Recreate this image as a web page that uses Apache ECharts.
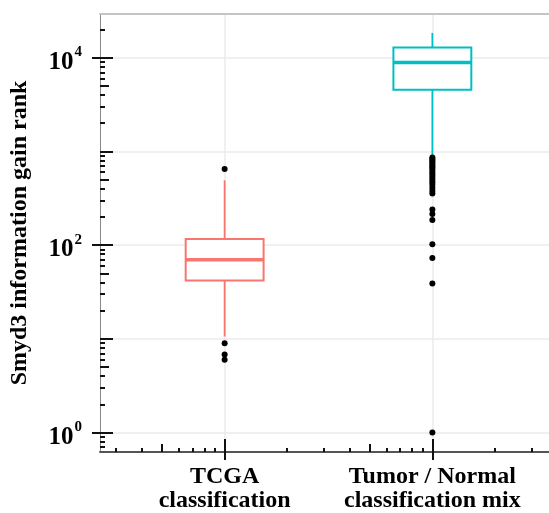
<!DOCTYPE html>
<html>
<head>
    <meta charset="utf-8">
    <script src="https://cdn.jsdelivr.net/npm/echarts@6/dist/echarts.min.js"></script>
    <style>
        html, body { margin: 0; padding: 0; background: #fff; }
    </style>
</head>
<body>
    <div id="main" style="width: 549px;height:513px;"></div>

    <script type="text/javascript">
        // categories and box stats: [min, q1, median, q3, max]
        var categories = ['TCGA\nclassification', 'Tumor / Normal\nclassification mix'];
        var boxColors = ['#F8766D', '#00BFC4'];
        var tcgaBox = [10.6, 42, 70, 116, 492];
        var mixBox = [880, 4550, 8900, 12900, 18400];
        var tcgaOutliers = [650, 9.0, 6.8, 6.0];
        var mixOutliers = [860, 832, 800, 770, 740, 710, 680, 650, 617, 585, 555, 525, 495, 468, 440, 410, 380, 355,
                           240, 215, 185, 102, 73, 39, 1];
        var yLabels = [1, 100, 10000];

        var yMin = 0.62, yMax = 29300;
        var xMin = 0.4, xMax = 2.6;
        var boxHalf = 0.1875;
        var font = 'Liberation Serif';

        // log tick positions (1..9 x 10^k)
        function yTicks(mults) {
            var out = [];
            for (var d = -1; d <= 5; d++) {
                mults.forEach(function (m) {
                    var v = m * Math.pow(10, d);
                    if (v >= yMin && v <= yMax) out.push(v);
                });
            }
            return out;
        }
        function xTicks(mults) {
            var out = [];
            for (var d = -1; d <= 3; d++) {
                mults.forEach(function (m) {
                    var v = Math.log10(m * Math.pow(10, d));
                    if (v >= xMin && v <= xMax) out.push(v);
                });
            }
            return out;
        }
        var shortM = [2, 3, 4, 6, 7, 8, 9], midM = [5], longM = [1];

        var boxData = [[1].concat(tcgaBox), [2].concat(mixBox)];
        var outlierData = [];
        tcgaOutliers.forEach(function (v) { outlierData.push([1, v]); });
        mixOutliers.forEach(function (v) { outlierData.push([2, v]); });

        var tickStyle = { color: '#111', width: 2 };

        function yAxisBase(extra) {
            var a = {
                type: 'log', logBase: 10, min: yMin, max: yMax, position: 'left', z: 5,
                axisLine: { show: false },
                splitLine: { show: false },
                axisLabel: { show: false },
                axisTick: { show: false }
            };
            for (var k in extra) a[k] = extra[k];
            return a;
        }
        function xAxisBase(extra) {
            var a = {
                type: 'value', min: xMin, max: xMax, position: 'bottom', z: 5,
                axisLine: { show: false, onZero: false },
                splitLine: { show: false },
                axisLabel: { show: false },
                axisTick: { show: false }
            };
            for (var k in extra) a[k] = extra[k];
            return a;
        }

        var myChart = echarts.init(document.getElementById('main'));

        var option = {
            animation: false,
            backgroundColor: '#fff',
            // plot panel runs a little past the right edge of the picture
            grid: { left: 100, width: 457, top: 14, bottom: 61, outerBoundsMode: 'none', containLabel: false },
            xAxis: [
                xAxisBase({
                    axisLine: { show: true, onZero: false, lineStyle: { color: '#555', width: 2 } },
                    axisTick: { show: true, customValues: [1, 2], length: 8, inside: false, lineStyle: tickStyle },
                    axisLabel: {
                        show: true, customValues: [1, 2], margin: 13,
                        fontFamily: font, fontWeight: 'bold', fontSize: 24, lineHeight: 24, color: '#000',
                        formatter: function (v) { return categories[Math.round(v) - 1]; }
                    }
                }),
                xAxisBase({ axisTick: { show: true, customValues: xTicks(longM), length: 13, inside: true, lineStyle: tickStyle } }),
                xAxisBase({ axisTick: { show: true, customValues: xTicks(midM), length: 8, inside: true, lineStyle: tickStyle } }),
                xAxisBase({ axisTick: { show: true, customValues: xTicks(shortM), length: 4, inside: true, lineStyle: tickStyle } }),
                xAxisBase({ position: 'top', axisLine: { show: true, onZero: false, lineStyle: { color: '#c4c4c4', width: 2 } } })
            ],
            yAxis: [
                yAxisBase({
                    name: 'Smyd3 information gain rank',
                    nameLocation: 'middle',
                    nameGap: 68,
                    nameTextStyle: { fontFamily: font, fontWeight: 'bold', fontSize: 24, color: '#000' },
                    axisLine: { show: true, onZero: false, lineStyle: { color: '#888', width: 1 } },
                    axisTick: { show: true, customValues: yLabels, length: 8, inside: false, lineStyle: tickStyle },
                    axisLabel: {
                        show: true, customValues: yLabels, margin: 18,
                        formatter: function (v) {
                            return '{b|10}{s|' + Math.round(Math.log10(v)) + '}';
                        },
                        rich: {
                            b: { fontFamily: font, fontWeight: 'bold', fontSize: 25, color: '#000', verticalAlign: 'bottom', lineHeight: 34 },
                            s: { fontFamily: font, fontWeight: 'bold', fontSize: 15, color: '#000', verticalAlign: 'top', lineHeight: 30, padding: [4, 0, 0, 1] }
                        }
                    }
                }),
                yAxisBase({ axisTick: { show: true, customValues: yTicks(longM), length: 13, inside: true, lineStyle: tickStyle } }),
                yAxisBase({ axisTick: { show: true, customValues: yTicks(midM), length: 9, inside: true, lineStyle: tickStyle } }),
                yAxisBase({ axisTick: { show: true, customValues: yTicks(shortM), length: 5, inside: true, lineStyle: tickStyle } })
            ],
            series: [
                {
                    type: 'custom',
                    name: 'box',
                    xAxisIndex: 0,
                    yAxisIndex: 0,
                    z: 2,
                    data: boxData,
                    encode: { x: 0, y: [1, 2, 3, 4, 5] },
                    renderItem: function (params, api) {
                        var x = api.value(0);
                        var lo = api.coord([x, api.value(1)]);
                        var q1 = api.coord([x, api.value(2)]);
                        var med = api.coord([x, api.value(3)]);
                        var q3 = api.coord([x, api.value(4)]);
                        var hi = api.coord([x, api.value(5)]);
                        var half = api.coord([x + boxHalf, api.value(3)])[0] - med[0];
                        var c = boxColors[params.dataIndex];
                        return {
                            type: 'group',
                            children: [
                                { type: 'line', shape: { x1: q3[0], y1: q3[1], x2: hi[0], y2: hi[1] }, style: { stroke: c, lineWidth: 1.8 } },
                                { type: 'line', shape: { x1: q1[0], y1: q1[1], x2: lo[0], y2: lo[1] }, style: { stroke: c, lineWidth: 1.8 } },
                                { type: 'rect', shape: { x: med[0] - half, y: q3[1], width: half * 2, height: q1[1] - q3[1] },
                                  style: { fill: '#fff', stroke: c, lineWidth: 2 } },
                                { type: 'line', shape: { x1: med[0] - half, y1: med[1], x2: med[0] + half, y2: med[1] },
                                  style: { stroke: c, lineWidth: 3.5 } }
                            ]
                        };
                    },
                    markLine: {
                        z: 1,
                        silent: true,
                        symbol: ['none', 'none'],
                        label: { show: false },
                        lineStyle: { color: '#ebebeb', width: 1.5, type: 'solid' },
                        data: [
                            { yAxis: 1 }, { yAxis: 10 }, { yAxis: 100 }, { yAxis: 1000 }, { yAxis: 10000 },
                            { xAxis: 1 }, { xAxis: 2 }
                        ]
                    }
                },
                {
                    type: 'scatter',
                    name: 'outliers',
                    xAxisIndex: 0,
                    yAxisIndex: 0,
                    z: 3,
                    symbolSize: 6,
                    itemStyle: { color: '#000', opacity: 1 },
                    data: outlierData
                }
            ]
        };

        myChart.setOption(option);
    </script>
</body>
</html>
